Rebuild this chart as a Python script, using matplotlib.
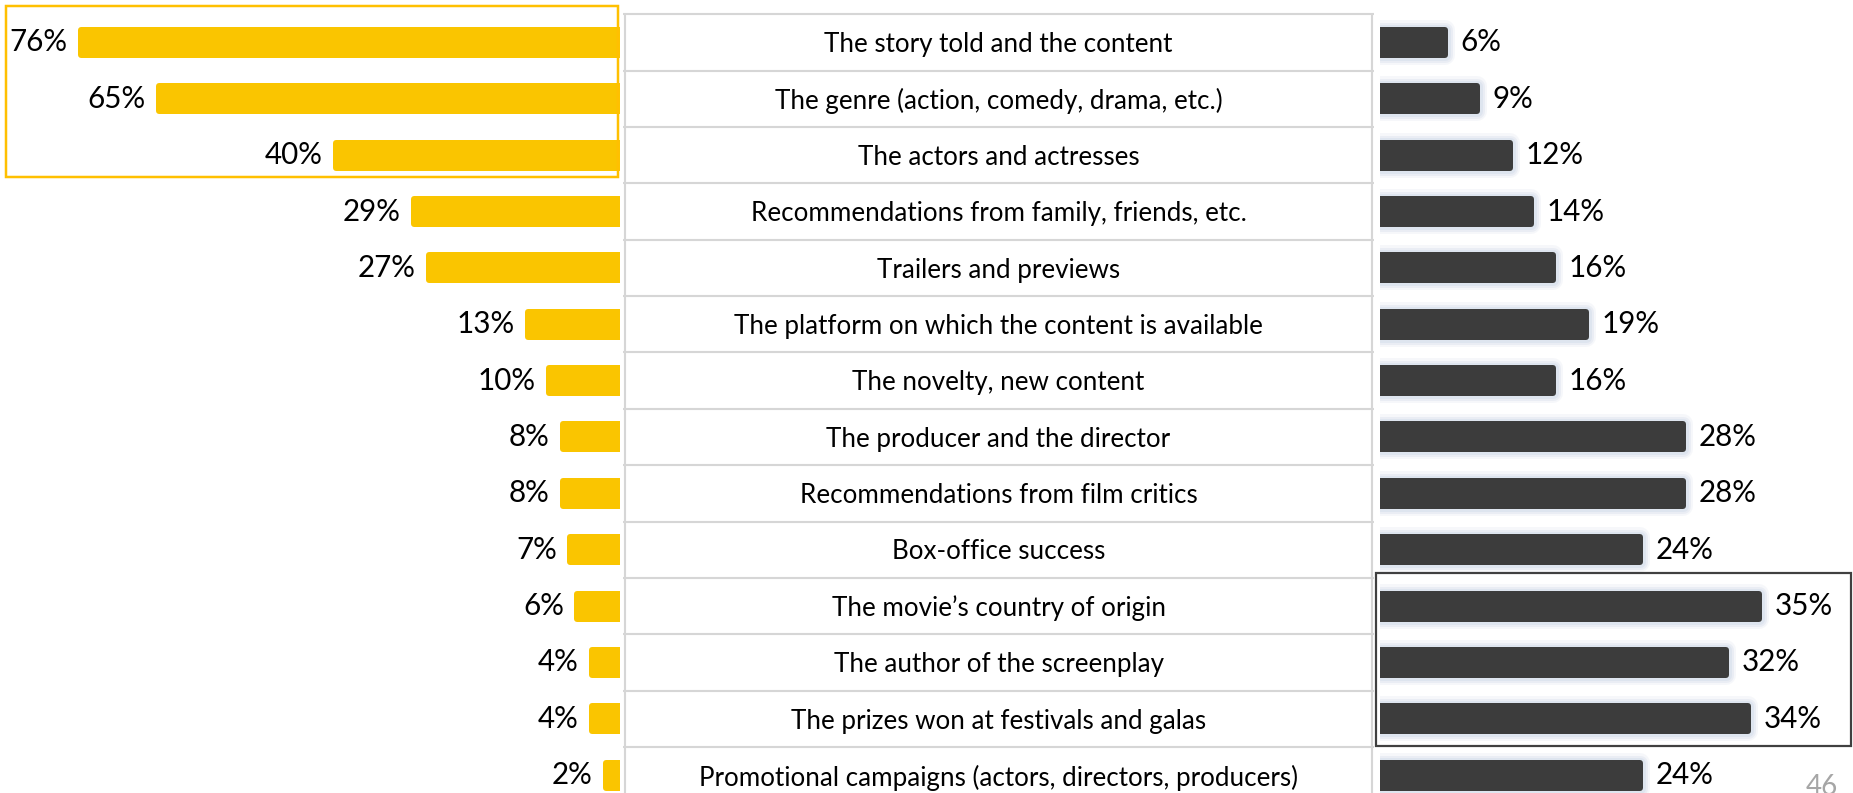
import matplotlib.pyplot as plt
from matplotlib.patches import Rectangle

plt.rcParams['font.family'] = ['Lato', 'DejaVu Sans']

categories = [
    "The story told and the content",
    "The genre (action, comedy, drama, etc.)",
    "The actors and actresses",
    "Recommendations from family, friends, etc.",
    "Trailers and previews",
    "The platform on which the content is available",
    "The novelty, new content",
    "The producer and the director",
    "Recommendations from film critics",
    "Box-office success",
    "The movie\u2019s country of origin",
    "The author of the screenplay",
    "The prizes won at festivals and galas",
    "Promotional campaigns (actors, directors, producers)",
]
important = [76, 65, 40, 29, 27, 13, 10, 8, 8, 7, 6, 4, 4, 2]
not_important = [6, 9, 12, 14, 16, 19, 16, 28, 28, 24, 35, 32, 34, 24]

W, H = 1853, 793
DPI = 100
PT = 72 / DPI  # points per pixel

YELLOW = '#FAC500'
DARK = '#3C3C3C'
GRID = '#D6D6D6'

# layout in pixels
ROW0, PITCH = 42.4, 56.37
BASE_L, TABLE_L, TABLE_R, BASE_R = 620, 623, 1374, 1380
PX_PER_PCT_L, PX_PER_PCT_R = 7.09, 10.82
y_top = -ROW0 / PITCH
y_bot = (H - ROW0) / PITCH

fig = plt.figure(figsize=(W / DPI, H / DPI), dpi=DPI)

ax_l = fig.add_axes([0, 0, BASE_L / W, 1])
ax_m = fig.add_axes([TABLE_L / W, 0, (TABLE_R - TABLE_L) / W, 1])
ax_r = fig.add_axes([BASE_R / W, 0, (W - BASE_R) / W, 1])
for ax in (ax_l, ax_m, ax_r):
    ax.set_ylim(y_bot, y_top)
    ax.axis('off')

ax_l.set_xlim(BASE_L / PX_PER_PCT_L, 0)
ax_r.set_xlim(0, (W - BASE_R) / PX_PER_PCT_R)
ax_m.set_xlim(0, 1)

rows = list(range(len(categories)))
stroke = 6  # px, gives rounded corners
bar_h = (31 - stroke) / PITCH

# left: important
ax_l.barh(rows, important, height=bar_h, color=YELLOW, edgecolor=YELLOW,
          linewidth=stroke * PT, joinstyle='round', zorder=3)
for r, v in zip(rows, important):
    ax_l.annotate(f"{v}%", (v, r), xytext=(-13.5 * PT, 0),
                  textcoords='offset points', ha='right', va='center',
                  fontsize=21.3, color='black')

# right: not important, with a soft halo
for lw, a in [(20, 0.25), (15, 0.45), (11, 0.8)]:
    ax_r.barh(rows, not_important, height=bar_h, color='#DCE3EE',
              edgecolor='#DCE3EE', linewidth=lw * PT, joinstyle='round',
              alpha=a, zorder=2)
ax_r.barh(rows, not_important, height=bar_h, color=DARK, edgecolor=DARK,
          linewidth=stroke * PT, joinstyle='round', zorder=3)
for r, v in zip(rows, not_important):
    ax_r.annotate(f"{v}%", (v, r), xytext=(15.5 * PT, 0),
                  textcoords='offset points', ha='left', va='center',
                  fontsize=21.3, color='black')

# middle: category table
ax_m.hlines([r - 0.5 for r in rows], 0, 1, color=GRID, lw=1.5 * PT * 1.4)
ax_m.vlines([0.002, 0.998], -0.5, y_bot, color=GRID, lw=1.5 * PT * 1.4)
for r, c in zip(rows, categories):
    ax_m.text(0.5, r + 0.04, c, ha='center', va='center', fontsize=18.7,
              color='black')

# highlight frames
fig.patches.append(Rectangle((6 / W, 1 - 177 / H), (618 - 6) / W, (177 - 6) / H,
                             transform=fig.transFigure, fill=False,
                             edgecolor='#FFC000', linewidth=2.5 * PT, zorder=5))
fig.patches.append(Rectangle((1376 / W, 1 - 746 / H), (1851 - 1376) / W, (746 - 573) / H,
                             transform=fig.transFigure, fill=False,
                             edgecolor='#404040', linewidth=2.2 * PT, zorder=5))

fig.text(1806 / W, 1 - 774 / H, "46", ha='left', va='top', fontsize=20,
         color='#A6A6A6')

fig.savefig('out.png', dpi=DPI)
